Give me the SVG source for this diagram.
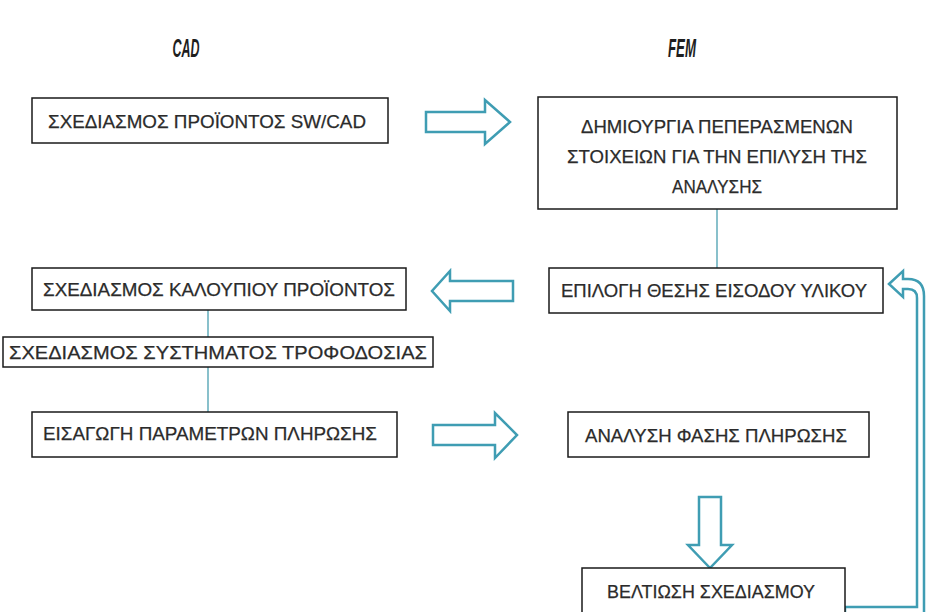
<svg xmlns="http://www.w3.org/2000/svg" width="928" height="612" viewBox="0 0 928 612">
<style>
.box{fill:#fff;stroke:#1a1a1a;stroke-width:1.5}
.t{font-family:"Liberation Sans",Arial,sans-serif;font-size:19px;fill:#2b2b2b;stroke:#2b2b2b;stroke-width:0.25;text-anchor:middle}
.h{font-family:"Liberation Sans",Arial,sans-serif;font-size:25px;font-style:italic;font-weight:bold;fill:#1e1e1e;text-anchor:middle}
.blk{fill:#fff;stroke:#3f9db3;stroke-width:2.5;stroke-linejoin:miter}
.ln{stroke:#4a9fb0;stroke-width:1.3;fill:none}
</style>
<rect width="928" height="612" fill="#fff"/>
<g id="titles">
<text class="h" x="186" y="57" textLength="27" lengthAdjust="spacingAndGlyphs">CAD</text>
<text class="h" x="682" y="57" textLength="28" lengthAdjust="spacingAndGlyphs">FEM</text>
</g>
<g id="connectors">
<line class="ln" x1="717" y1="209" x2="717" y2="268"/>
<line class="ln" x1="208" y1="310" x2="208" y2="337"/>
<line class="ln" x1="208" y1="367" x2="208" y2="412"/>
<polygon class="blk" points="426,112 485,112 485,100 510,122 485,144 485,132 426,132"/>
<polygon class="blk" points="513,281 450,281 450,271 432,291 450,311 450,301 513,301"/>
<polygon class="blk" points="433,425 495,425 495,413 517,435 495,458 495,445 433,445"/>
<polygon class="blk" points="699,497 721,497 721,545 732,545 710,568 688,545 699,545"/>
<path class="blk" d="M889 284 L903 271 L903 279 L908 279 Q924 279 924 296 L924 620 L845 620 L845 607 L917 607 L917 298 Q917 289 908 289 L903 289 L903 297 Z"/>
</g>
<g id="n1"><rect class="box" x="32" y="98" width="356" height="45"/>
<text class="t" x="207" y="128" textLength="318" lengthAdjust="spacingAndGlyphs">ΣΧΕΔΙΑΣΜΟΣ ΠΡΟΪΟΝΤΟΣ SW/CAD</text></g>
<g id="n2"><rect class="box" x="538" y="97" width="359" height="112"/>
<text class="t" x="717" y="133" textLength="272" lengthAdjust="spacingAndGlyphs">ΔΗΜΙΟΥΡΓΙΑ ΠΕΠΕΡΑΣΜΕΝΩΝ</text>
<text class="t" x="717" y="163" textLength="300" lengthAdjust="spacingAndGlyphs">ΣΤΟΙΧΕΙΩΝ ΓΙΑ ΤΗΝ ΕΠΙΛΥΣΗ ΤΗΣ</text>
<text class="t" x="717" y="193" textLength="90" lengthAdjust="spacingAndGlyphs">ΑΝΑΛΥΣΗΣ</text></g>
<g id="n3"><rect class="box" x="549" y="268" width="334" height="45"/>
<text class="t" x="714" y="297" textLength="306" lengthAdjust="spacingAndGlyphs">ΕΠΙΛΟΓΗ ΘΕΣΗΣ ΕΙΣΟΔΟΥ ΥΛΙΚΟΥ</text></g>
<g id="n4"><rect class="box" x="32" y="268" width="374" height="42"/>
<text class="t" x="219" y="296" textLength="352" lengthAdjust="spacingAndGlyphs">ΣΧΕΔΙΑΣΜΟΣ ΚΑΛΟΥΠΙΟΥ ΠΡΟΪΟΝΤΟΣ</text></g>
<g id="n5"><rect class="box" x="3" y="337" width="430" height="30"/>
<text class="t" x="218" y="359" textLength="418" lengthAdjust="spacingAndGlyphs">ΣΧΕΔΙΑΣΜΟΣ ΣΥΣΤΗΜΑΤΟΣ ΤΡΟΦΟΔΟΣΙΑΣ</text></g>
<g id="n6"><rect class="box" x="32" y="412" width="365" height="45"/>
<text class="t" x="210" y="440" textLength="334" lengthAdjust="spacingAndGlyphs">ΕΙΣΑΓΩΓΗ ΠΑΡΑΜΕΤΡΩΝ ΠΛΗΡΩΣΗΣ</text></g>
<g id="n7"><rect class="box" x="568" y="412" width="301" height="45"/>
<text class="t" x="716" y="442" textLength="262" lengthAdjust="spacingAndGlyphs">ΑΝΑΛΥΣΗ ΦΑΣΗΣ ΠΛΗΡΩΣΗΣ</text></g>
<g id="n8"><rect class="box" x="582" y="568" width="263" height="50"/>
<text class="t" x="711" y="598" textLength="208" lengthAdjust="spacingAndGlyphs">ΒΕΛΤΙΩΣΗ ΣΧΕΔΙΑΣΜΟΥ</text></g>
</svg>
